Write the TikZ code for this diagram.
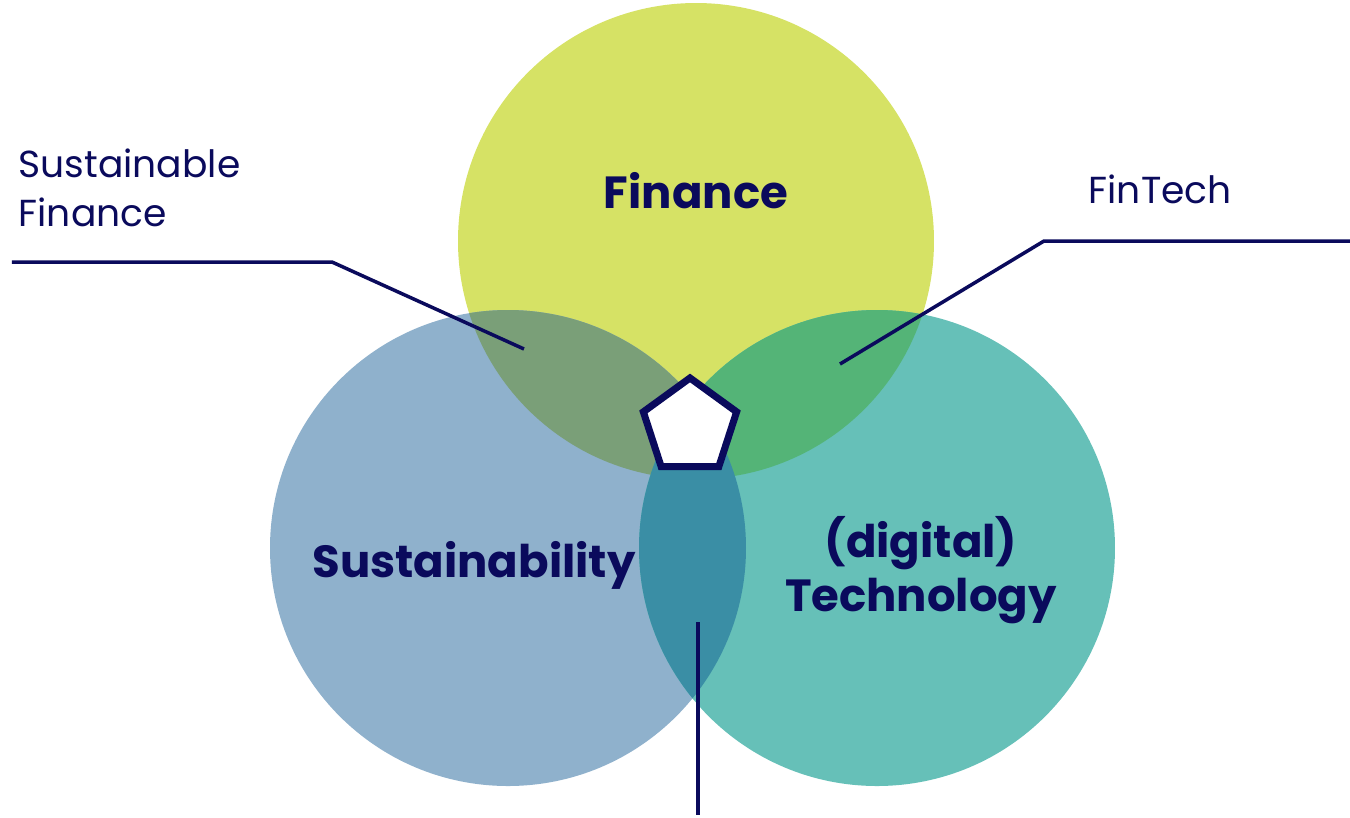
\documentclass[tikz,border=0pt]{standalone}
\usepackage{fontspec}
\setmainfont{Poppins}
\usetikzlibrary{shapes.geometric}
\begin{document}
\begin{tikzpicture}[x=0.01cm,y=-0.01cm,
  lbl/.style={font=\fontsize{12.8}{15.5}\selectfont\bfseries, text=navy, align=center, inner sep=0pt},
  side/.style={font=\fontsize{10.7}{14}\selectfont, text=navy, align=left, inner sep=0pt, anchor=north west},
  leader/.style={draw=navy, line width=1pt},
  pent/.style={regular polygon, regular polygon sides=5, minimum size=0.98cm, draw=navy, fill=white, line width=2pt, inner sep=0pt}]
\definecolor{navy}{HTML}{0A0A5C}
\definecolor{cF}{HTML}{D6E265}
\definecolor{cS}{HTML}{8FB1CC}
\definecolor{cT}{HTML}{66C0B8}
\definecolor{cFS}{HTML}{7A9F78}
\definecolor{cFT}{HTML}{54B477}
\definecolor{cST}{HTML}{3A8EA5}
\useasboundingbox (0,0) rectangle (1350,817);
\def\cF{(696,241) circle (238)}
\def\cS{(508,548) circle (238)}
\def\cT{(877,548) circle (238)}
\fill[cF] \cF;
\fill[cS] \cS;
\fill[cT] \cT;
\begin{scope}\clip \cF; \fill[cFS] \cS; \end{scope}
\begin{scope}\clip \cF; \fill[cFT] \cT; \end{scope}
\begin{scope}\clip \cS; \fill[cST] \cT; \end{scope}
\node[pent] (p) at (690,427) {};
\node[lbl] (fin) at (696,191) {Finance};
\node[lbl] (sus) at (474,565) {Sustainability};
\node[lbl] (tech) at (921,570) {(digital)\\Technology};
\node[side] (sf) at (18,148) {Sustainable\\Finance};
\node[side] (ft) at (1088,174) {FinTech};
\coordinate (a1) at (12,262);
\coordinate (a2) at (332,262);
\coordinate (a3) at (524,349);
\coordinate (b1) at (840,364);
\coordinate (b2) at (1044,241);
\coordinate (b3) at (1350,241);
\coordinate (c1) at (698,622);
\coordinate (c2) at (698,815);
\draw[leader] (a1) -- (a2) -- (a3);
\draw[leader] (b1) -- (b2) -- (b3);
\draw[leader] (c1) -- (c2);
\end{tikzpicture}
\end{document}
